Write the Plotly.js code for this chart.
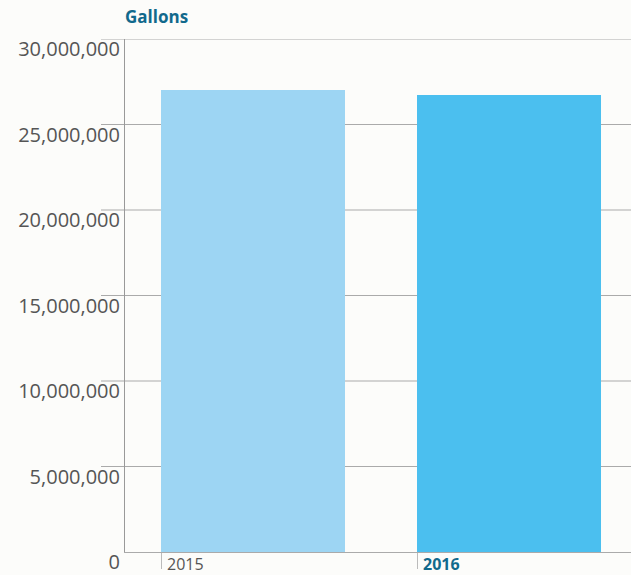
<!DOCTYPE html>
<html>
<head>
<meta charset="utf-8">
<script src="https://cdn.plot.ly/plotly-3.0.1.min.js"></script>
<style>
html,body{margin:0;padding:0;background:#fcfcfa;}
#chart{width:631px;height:575px;}
</style>
</head>
<body>
<div id="chart"></div>
<script>
var years = ["2015", "2016"];
var gallons = [27020000, 26730000];
var barColors = ["#9dd5f3", "#4bbfef"];
var yTickVals = [0, 5000000, 10000000, 15000000, 20000000, 25000000, 30000000];
var yTickText = ["0", "5,000,000", "10,000,000", "15,000,000", "20,000,000", "25,000,000", "30,000,000"];
var xTickText = ["2015", "<b><span style='color:#11698c'>2016</span></b>"];

var xPos = years.map(function(d, i){ return i; });

var shapes = yTickVals.filter(function(v){ return v > 0; }).map(function(v){
  return {type:'line', xref:'paper', yref:'y', x0:-0.0474, x1:1, y0:v, y1:v,
          line:{color:'#aaaaaa', width:1}, layer:'below'};
});

var trace = {
  type:'bar',
  x: xPos,
  y: gallons,
  width: 0.71875,
  offset: 0,
  marker:{color: barColors},
  hoverinfo:'none'
};

var layout = {
  width:631, height:575,
  paper_bgcolor:'#fcfcfa', plot_bgcolor:'#fcfcfa',
  margin:{l:125, r:0, t:39, b:23, pad:0},
  showlegend:false,
  font:{family:'Open Sans, sans-serif', color:'#555555'},
  title:{text:'<b>Gallons</b>', font:{family:'Open Sans, sans-serif', size:17, color:'#11698c'},
         x:125/631, xanchor:'left', xref:'container', y:1-17/575, yanchor:'middle', yref:'container'},
  xaxis:{
    range:[-0.140625, 1.8359],
    tickvals: xPos, ticktext: xTickText,
    ticks:'outside', ticklen:16, tickcolor:'#bbbbbb', tickwidth:1,
    ticklabelposition:'outside right',
    ticklabelshift:5, ticklabelstandoff:-2,
    ticklabeloverflow:'allow',
    showgrid:false, zeroline:false,
    showline:true, linecolor:'#aaaaaa', linewidth:1,
    tickfont:{size:16, color:'#555555'}, fixedrange:true
  },
  yaxis:{
    range:[0, 30000000],
    tickvals: yTickVals, ticktext: yTickText,
    ticks:'', showgrid:false, zeroline:false,
    showline:true, linecolor:'#999999', linewidth:1,
    ticklabelshift:10, ticklabelstandoff:0,
    ticklabeloverflow:'allow',
    tickfont:{size:20, color:'#555555'}, fixedrange:true
  },
  shapes: shapes
};

Plotly.newPlot('chart', [trace], layout, {displayModeBar:false, staticPlot:true});
</script>
</body>
</html>
